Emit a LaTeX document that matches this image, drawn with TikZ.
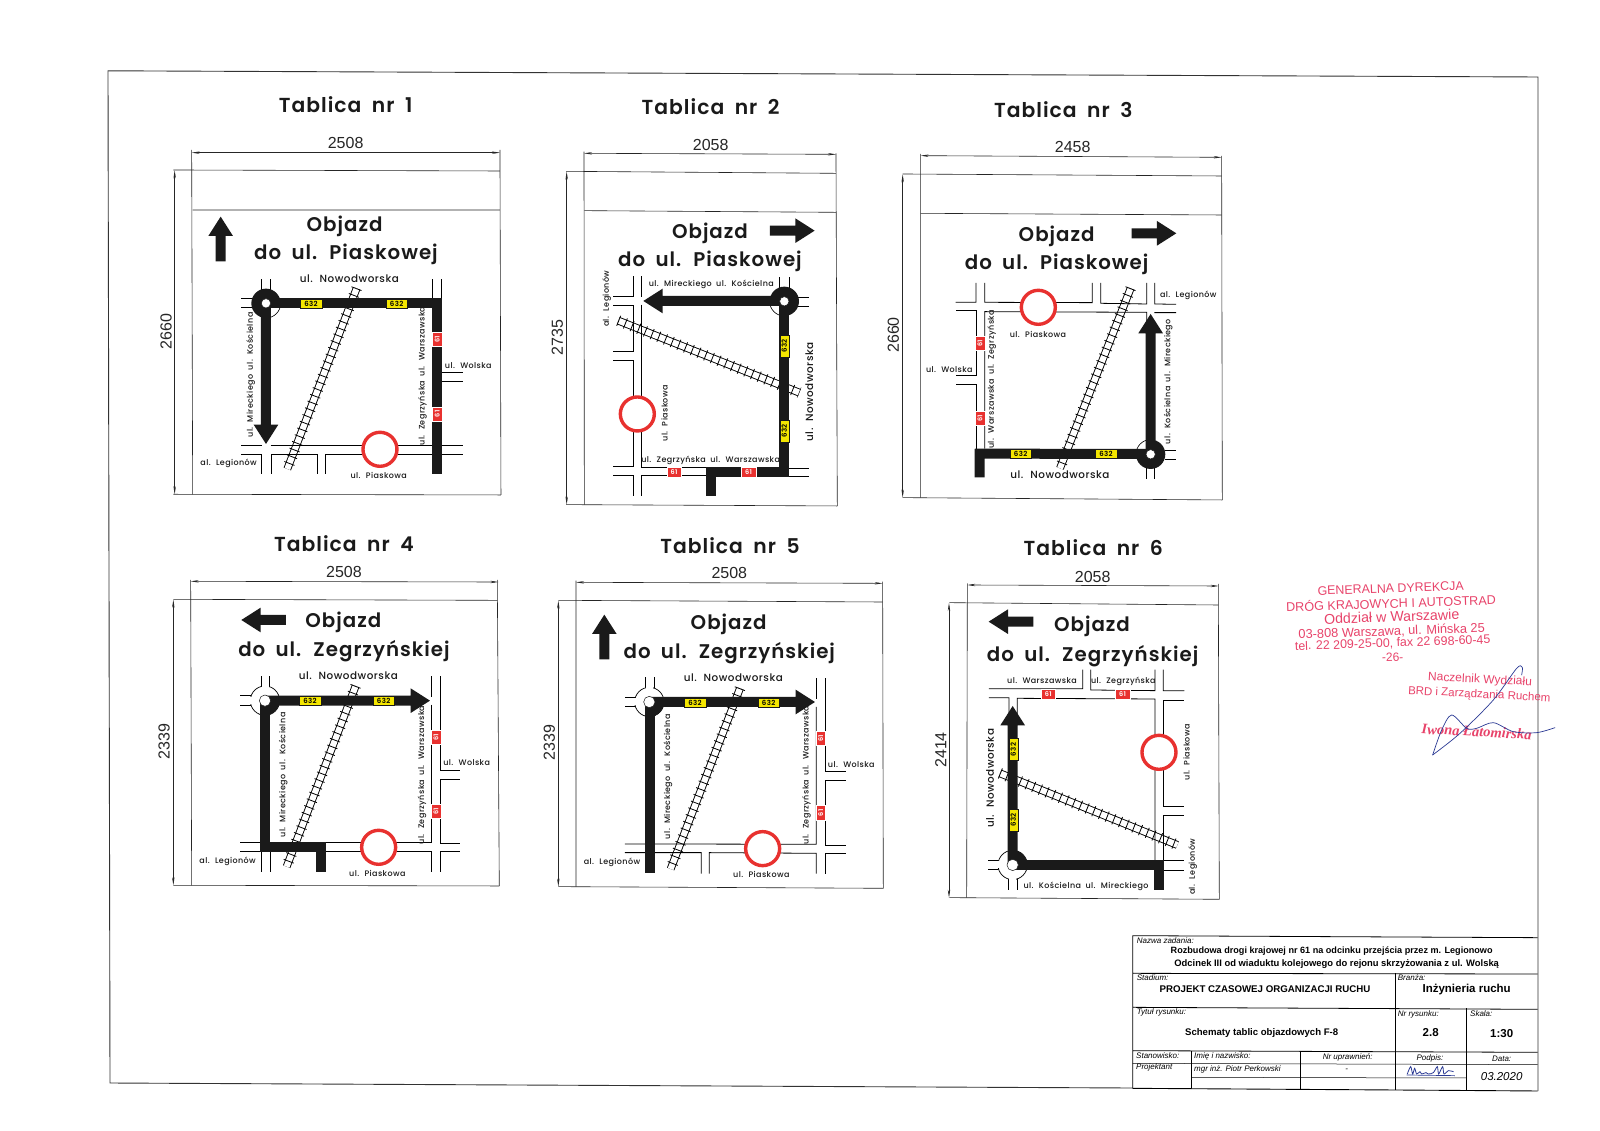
\documentclass[tikz,border=0pt]{standalone}
\usepackage{fontspec}
\usepackage{xcolor}
\usepackage{tikz}
\usetikzlibrary{arrows.meta}
\setmainfont{Liberation Sans}
\newfontfamily\futura[LetterSpace=5,WordSpace=1.8,UprightFont=* Medium]{Poppins}
\newfontfamily\futurab[LetterSpace=5,WordSpace=1.8,UprightFont=* SemiBold]{Poppins}
\newfontfamily\serifstamp{Liberation Serif}
\definecolor{stamp}{HTML}{E8436A}
\definecolor{pen}{HTML}{2B3A94}
\definecolor{signy}{HTML}{F4E600}
\definecolor{signr}{HTML}{E8312F}
\definecolor{ink}{HTML}{1A1A1A}
\newcommand{\fs}[1]{\fontsize{#1}{#1}\selectfont}

\tikzset{
  panel/.style={x=0.3333pt,y=-0.3333pt},
  every node/.style={inner sep=0pt},
  dimline/.style={line width=.6pt,draw=black!85},
  roadline/.style={line width=.8pt,line cap=rect},
  thickroad/.style={line width=10pt,draw=ink},
  ysign/.style={fill=signy,draw=ink,line width=.3pt,minimum width=21.5pt,minimum height=9.3pt,font=\futurab\fs{7}},
  rsign/.style={fill=signr,draw=white,line width=.3pt,text=white,minimum width=14.5pt,minimum height=9.5pt,font=\futurab\fs{6.5}},
  title/.style={font=\futurab\fs{20.3},text=ink},
  board/.style={font=\futurab\fs{19.8},text=ink},
  labs/.style={font=\futura\fs{8},text=ink},
  labl/.style={font=\futura\fs{10.4},text=ink},
  dimtext/.style={font=\fs{16},text=black!85},
  small/.style={font=\itshape\fs{8},anchor=west},
  head/.style={font=\bfseries\fs{9.1}},
  stamptext/.style={text=stamp,font=\fs{12.4}}
}

% arrow: start x, start y, direction, length
\newcommand{\bigarrow}[4]{
  \fill[ink,shift={(#1,#2)},rotate=#3] (0,-15) -- ({#4-58},-15) -- ({#4-58},-37) -- (#4,0) -- ({#4-58},37) -- ({#4-58},15) -- (0,15) -- cycle;
}
\newcommand{\track}[4]{
  \draw[line width=.9pt,double=white,double distance=6pt] (#1,#2) -- (#3,#4);
  \draw[dash pattern=on .8pt off 6.4pt,line width=10.8pt] (#1,#2) -- (#3,#4);
}
% black ring with one white quarter
\newcommand{\ringb}[3]{
  \fill[ink] (#1,#2) circle[radius=44];
  \filldraw[fill=white,draw=none] (#1,#2) -- ++(#3:44) arc[start angle=#3,delta angle=90,radius=44] -- cycle;
  \draw[line width=.6pt] (#1,#2) ++(#3:44) arc[start angle=#3,delta angle=90,radius=44];
}
% thin ring with one black quarter
\newcommand{\ringt}[3]{
  \draw[line width=.7pt,fill=white] (#1,#2) circle[radius=44];
  \fill[ink] (#1,#2) -- ++(#3:44) arc[start angle=#3,delta angle=90,radius=44] -- cycle;
}
\newcommand{\hole}[3]{\filldraw[fill=white,draw=ink,line width=.5pt] (#1,#2) circle[radius=#3];}
\newcommand{\noentry}[2]{\draw[draw=signr,line width=3.4pt,fill=white] (#1,#2) circle[radius=51];}

\begin{document}
\begin{tikzpicture}[x=1pt,y=-1pt]
\useasboundingbox (0,0) rectangle (1600,1131);
\fill[white] (0,0) rectangle (1600,1131);

% frame
\draw[line width=.9pt,draw=black!80] (1132.7,1088) -- (110,1083) -- (108,70.8) -- (1538,77) -- (1538,1091);

% Tablica 1
\begin{scope}[shift={(140,70)},panel]
\node[title] (t1) at (617,105) {Tablica nr 1};
\node[dimtext] (w1) at (617,220) {2508};
\node[dimtext,rotate=90] (h1) at (78,785) {2660};
\draw[dimline,{Stealth[length=8pt,width=2.4pt]}-{Stealth[length=8pt,width=2.4pt]}] (155,248) -- (1080,248);
\draw[dimline,{Stealth[length=8pt,width=2.4pt]}-{Stealth[length=8pt,width=2.4pt]}] (104,301) -- (104,1273);
\draw[dimline] (100,300) -- (1080,303) (158,420) -- (1080,420) (100,1273) -- (1083,1275);
\draw[dimline] (155,240) -- (158,1273) (1080,240) -- (1083,1275);
\node[board] (o1) at (614,468) {Objazd};
\node[board] (d1) at (618,553) {do ul. Piaskowej};
\bigarrow{242}{574}{90}{134}
\track{650}{655}{442}{1197}
\draw[roadline] (365,628) -- (365,665) (390,628) -- (390,665) (305,686) -- (340,686) (305,712) -- (340,712);
\draw[roadline] (877,628) -- (877,686) (905,628) -- (905,686);
\draw[roadline] (305,1127) -- (365,1127) (393,1127) -- (877,1127) (305,1153) -- (365,1153) -- (365,1210);
\draw[roadline] (393,1210) -- (393,1153) -- (532,1153) -- (532,1212) (557,1212) -- (557,1153) -- (877,1153);
\draw[roadline] (907,1127) -- (967,1127) (907,1153) -- (967,1153) (907,908) -- (967,908) (907,934) -- (967,934);
\ringb{378}{700}{0}
\draw[thickroad] (378,700) -- (907,700) (892,685) -- (892,1213);
\bigarrow{378}{700}{-90}{422}
\hole{378}{700}{14}
\noentry{720}{1138}
\node[ysign] (y1a) at (513,702) {632};
\node[ysign] (y1b) at (770,702) {632};
\node[rsign,rotate=90] (r1a) at (892,808) {61};
\node[rsign,rotate=90] (r1b) at (892,1032) {61};
\node[labl] (n1) at (628,627) {ul. Nowodworska};
\node[labs] (w1a) at (985,886) {ul. Wolska};
\node[labs] (l1) at (266,1181) {al. Legionów};
\node[labs] (p1) at (716,1216) {ul. Piaskowa};
\node[labs,rotate=90] (m1) at (332,915) {ul. Mireckiego ul. Kościelna};
\node[labs,rotate=90] (z1) at (848,918) {ul. Zegrzyńska ul. Warszawska};
\end{scope}

% Tablica 2
\begin{scope}[shift={(540,70)},panel]
\node[title] (t2) at (512,110) {Tablica nr 2};
\node[dimtext] (w2) at (512,224) {2058};
\node[dimtext,rotate=90] (h2) at (52,803) {2735};
\draw[dimline,{Stealth[length=8pt,width=2.4pt]}-{Stealth[length=8pt,width=2.4pt]}] (132,250) -- (888,253);
\draw[dimline,{Stealth[length=8pt,width=2.4pt]}-{Stealth[length=8pt,width=2.4pt]}] (80,305) -- (80,1304);
\draw[dimline] (78,304) -- (888,310) (133,422) -- (888,427) (78,1304) -- (892,1308);
\draw[dimline] (132,245) -- (133,1304) (888,250) -- (892,1308);
\node[board] (o2) at (510,489) {Objazd};
\node[board] (d2) at (510,575) {do ul. Piaskowej};
\bigarrow{690}{482}{0}{134}
\track{235}{752}{778}{968}
\draw[roadline] (718,622) -- (718,655) (748,622) -- (748,655) (775,682) -- (806,682) (775,708) -- (806,708);
\draw[roadline] (279,620) -- (279,680) -- (220,680) (305,620) -- (305,680) (305,705) -- (305,1192) -- (498,1192);
\draw[roadline] (220,706) -- (279,706) -- (279,845) -- (220,845) (220,870) -- (279,870) -- (279,1190) -- (220,1190);
\draw[roadline] (220,1217) -- (279,1217) -- (279,1277) (305,1277) -- (305,1217) -- (498,1217);
\draw[roadline] (748,1194) -- (806,1194) (748,1220) -- (806,1220);
\ringb{733}{694}{90}
\draw[thickroad] (733,694) -- (733,1222) (498,1207) -- (748,1207) (513,1192) -- (513,1278);
\bigarrow{733}{693}{180}{423}
\hole{733}{694}{14}
\noentry{292}{1032}
\node[ysign,rotate=90] (y2a) at (733,828) {632};
\node[ysign,rotate=90] (y2b) at (733,1083) {632};
\node[rsign] (r2a) at (402,1206) {61};
\node[rsign] (r2b) at (626,1206) {61};
\node[labs] (m2) at (514,642) {ul. Mireckiego ul. Kościelna};
\node[labs] (z2) at (512,1170) {ul. Zegrzyńska ul. Warszawska};
\node[labs,rotate=90] (l2) at (200,686) {al. Legionów};
\node[labs,rotate=90] (p2) at (374,1030) {ul. Piaskowa};
\node[labl,rotate=90] (n2) at (808,966) {ul. Nowodworska};
\end{scope}

% Tablica 3
\begin{scope}[shift={(880,70)},panel]
\node[title] (t3) at (550,118) {Tablica nr 3};
\node[dimtext] (w3) at (578,232) {2458};
\node[dimtext,rotate=90] (h3) at (40,795) {2660};
\draw[dimline,{Stealth[length=8pt,width=2.4pt]}-{Stealth[length=8pt,width=2.4pt]}] (122,257) -- (1025,262);
\draw[dimline,{Stealth[length=8pt,width=2.4pt]}-{Stealth[length=8pt,width=2.4pt]}] (68,313) -- (68,1283);
\draw[dimline] (68,312) -- (1025,318) (122,430) -- (1025,435) (68,1283) -- (1027,1290);
\draw[dimline] (122,252) -- (122,1283) (1025,258) -- (1027,1290);
\node[board] (o3) at (530,498) {Objazd};
\node[board] (d3) at (530,583) {do ul. Piaskowej};
\bigarrow{755}{490}{0}{134}
\track{752}{655}{540}{1195}
\draw[roadline] (228,697) -- (288,697) -- (288,640) (314,640) -- (314,697) -- (637,698) -- (637,640);
\draw[roadline] (662,640) -- (662,700) -- (800,702) -- (800,640) (824,640) -- (824,702) -- (887,703);
\draw[roadline] (228,722) -- (288,722) -- (288,916) -- (228,916) (228,942) -- (288,942) -- (288,1137);
\draw[roadline] (314,1135) -- (314,725) -- (800,727) -- (800,790) (824,728) -- (887,728);
\draw[roadline] (855,1140) -- (887,1140) (855,1168) -- (887,1168) (798,1195) -- (798,1226) (824,1195) -- (824,1226);
\ringb{812}{1153}{180}
\draw[thickroad] (812,1152) -- (285,1151) (299,1137) -- (299,1222);
\bigarrow{812}{1152}{90}{420}
\hole{812}{1153}{14}
\noentry{475}{712}
\node[ysign] (y3a) at (422,1151) {632};
\node[ysign] (y3b) at (678,1152) {632};
\node[rsign,rotate=90] (r3a) at (300,820) {61};
\node[rsign,rotate=90] (r3b) at (300,1045) {61};
\node[labs] (p3) at (474,794) {ul. Piaskowa};
\node[labs] (l3) at (925,677) {al. Legionów};
\node[labs] (w3a) at (208,898) {ul. Wolska};
\node[labs,rotate=90] (z3) at (335,928) {ul. Warszawska ul. Zegrzyńska};
\node[labs,rotate=90] (m3) at (865,935) {ul. Kościelna ul. Mireckiego};
\node[labl] (n3) at (540,1213) {ul. Nowodworska};
\end{scope}

% Tablica 4
\begin{scope}[shift={(140,520)},panel]
\node[title] (t4) at (612,71) {Tablica nr 4};
\node[dimtext] (w4) at (612,157) {2508};
\node[dimtext,rotate=90] (h4) at (72,665) {2339};
\draw[dimline,{Stealth[length=8pt,width=2.4pt]}-{Stealth[length=8pt,width=2.4pt]}] (152,184) -- (1075,186);
\draw[dimline,{Stealth[length=8pt,width=2.4pt]}-{Stealth[length=8pt,width=2.4pt]}] (100,239) -- (100,1096);
\draw[dimline] (100,238) -- (1072,241) (100,1096) -- (1078,1098);
\draw[dimline] (152,180) -- (155,1096) (1072,180) -- (1078,1098);
\node[board] (o4) at (610,306) {Objazd};
\node[board] (d4) at (612,395) {do ul. Zegrzyńskiej};
\bigarrow{438}{300}{180}{134}
\track{647}{498}{440}{1040}
\draw[roadline] (365,470) -- (365,505) (388,470) -- (388,505) (302,527) -- (335,527) (302,555) -- (335,555);
\draw[roadline] (875,470) -- (875,530) (902,470) -- (902,750) -- (960,750) (960,777) -- (902,777) -- (902,970) -- (960,970);
\draw[roadline] (875,555) -- (875,968) -- (557,968) (302,968) -- (362,968) (302,995) -- (362,995);
\draw[roadline] (557,995) -- (875,995) -- (875,1055) (902,1055) -- (902,995) -- (960,995) (365,995) -- (365,1055) (390,995) -- (390,1055);
\ringt{375}{542}{0}
\draw[white,line width=7pt] (376,490) -- (376,510) (320,541) -- (340,541);
\bigarrow{375}{542}{0}{495}
\draw[thickroad] (376,542) -- (376,996) (362,982) -- (557,982) (542,967) -- (542,1055);
\hole{375}{542}{17}
\noentry{716}{982}
\node[ysign] (y4a) at (510,542) {632};
\node[ysign] (y4b) at (731,542) {632};
\node[rsign,rotate=90] (r4a) at (888,652) {61};
\node[rsign,rotate=90] (r4b) at (888,874) {61};
\node[labl] (n4) at (625,468) {ul. Nowodworska};
\node[labs] (w4a) at (980,728) {ul. Wolska};
\node[labs] (l4) at (263,1023) {al. Legionów};
\node[labs] (p4) at (712,1060) {ul. Piaskowa};
\node[labs,rotate=90] (m4) at (430,765) {ul. Mireckiego ul. Kościelna};
\node[labs,rotate=90] (z4) at (846,765) {ul. Zegrzyńska ul. Warszawska};
\end{scope}

% Tablica 5
\begin{scope}[shift={(540,520)},panel]
\node[title] (t5) at (570,77) {Tablica nr 5};
\node[dimtext] (w5) at (568,160) {2508};
\node[dimtext,rotate=90] (h5) at (28,668) {2339};
\draw[dimline,{Stealth[length=8pt,width=2.4pt]}-{Stealth[length=8pt,width=2.4pt]}] (108,187) -- (1028,190);
\draw[dimline,{Stealth[length=8pt,width=2.4pt]}-{Stealth[length=8pt,width=2.4pt]}] (55,242) -- (55,1100);
\draw[dimline] (55,241) -- (1028,246) (55,1100) -- (1030,1105);
\draw[dimline] (108,182) -- (108,1100) (1028,185) -- (1030,1105);
\node[board] (o5) at (566,312) {Objazd};
\node[board] (d5) at (568,401) {do ul. Zegrzyńskiej};
\bigarrow{193}{418}{90}{134}
\track{600}{505}{392}{1047}
\draw[roadline] (316,472) -- (316,508) (343,472) -- (343,508) (256,532) -- (290,532) (256,560) -- (290,560);
\draw[roadline] (829,476) -- (829,535) (855,476) -- (855,755) -- (916,755) (916,782) -- (855,782) -- (855,975) -- (916,975);
\draw[roadline] (829,562) -- (829,973) -- (344,972) (256,972) -- (314,972) (256,998) -- (314,998);
\draw[roadline] (344,998) -- (484,998) -- (484,1060) (508,1060) -- (508,998) -- (829,1000) -- (829,1060);
\draw[roadline] (855,1060) -- (855,1000) -- (916,1000);
\ringt{328}{546}{0}
\draw[white,line width=7pt] (329,495) -- (329,514) (272,546) -- (292,546);
\bigarrow{328}{546}{0}{497}
\draw[thickroad] (329,546) -- (329,1058);
\hole{328}{546}{17}
\noentry{668}{986}
\node[ysign] (y5a) at (465,548) {632};
\node[ysign] (y5b) at (686,548) {632};
\node[rsign,rotate=90] (r5a) at (842,655) {61};
\node[rsign,rotate=90] (r5b) at (842,878) {61};
\node[labl] (n5) at (580,473) {ul. Nowodworska};
\node[labs] (w5a) at (934,733) {ul. Wolska};
\node[labs] (l5) at (216,1028) {al. Legionów};
\node[labs] (p5) at (664,1064) {ul. Piaskowa};
\node[labs,rotate=90] (m5) at (384,770) {ul. Mireckiego ul. Kościelna};
\node[labs,rotate=90] (z5) at (800,765) {ul. Zegrzyńska ul. Warszawska};
\end{scope}

% Tablica 6
\begin{scope}[shift={(930,520)},panel]
\node[title] (t6) at (490,83) {Tablica nr 6};
\node[dimtext] (w6) at (488,170) {2058};
\node[dimtext,rotate=90] (h6) at (32,690) {2414};
\draw[dimline,{Stealth[length=8pt,width=2.4pt]}-{Stealth[length=8pt,width=2.4pt]}] (112,195) -- (866,198);
\draw[dimline,{Stealth[length=8pt,width=2.4pt]}-{Stealth[length=8pt,width=2.4pt]}] (57,249) -- (57,1133);
\draw[dimline] (58,248) -- (865,255) (58,1133) -- (868,1138);
\draw[dimline] (112,190) -- (110,1133) (865,192) -- (868,1138);
\node[board] (o6) at (486,319) {Objazd};
\node[board] (d6) at (488,408) {do ul. Zegrzyńskiej};
\bigarrow{310}{305}{180}{134}
\track{210}{760}{742}{975}
\draw[roadline] (178,506) -- (458,506) -- (458,450) (482,450) -- (482,510) -- (675,512) -- (675,450);
\draw[roadline] (700,450) -- (700,512) -- (762,512) (178,533) -- (237,533) -- (237,590) (262,590) -- (262,535) -- (675,537) -- (675,1020);
\draw[roadline] (762,540) -- (700,540) -- (700,858) -- (762,858) (762,885) -- (700,885) -- (700,1020);
\draw[roadline] (702,1022) -- (762,1022) (702,1050) -- (762,1050);
\draw[roadline] (175,1022) -- (208,1022) (175,1048) -- (208,1048) (234,1075) -- (234,1108) (262,1075) -- (262,1108);
\ringt{248}{1035}{270}
\draw[white,line width=7pt] (190,1035) -- (210,1035) (248,1070) -- (248,1090);
\bigarrow{248}{1035}{90}{477}
\draw[thickroad] (248,1035) -- (702,1035) (686,1020) -- (686,1110);
\hole{248}{1035}{17}
\noentry{687}{697}
\node[ysign,rotate=90] (y6a) at (250,688) {632};
\node[ysign,rotate=90] (y6b) at (250,900) {632};
\node[rsign] (r6a) at (355,522) {61};
\node[rsign] (r6b) at (578,522) {61};
\node[labs] (z6a) at (336,483) {ul. Warszawska};
\node[labs] (z6b) at (580,485) {ul. Zegrzyńska};
\node[labs] (m6) at (468,1100) {ul. Kościelna ul. Mireckiego};
\node[labl,rotate=90] (n6) at (180,775) {ul. Nowodworska};
\node[labs,rotate=90] (p6) at (770,697) {ul. Piaskowa};
\node[labs,rotate=90] (l6) at (788,1040) {al. Legionów};
\end{scope}

% tabliczka
\begin{scope}[shift={(1120,920)},panel]
\draw[line width=.8pt] (38,505) -- (38,47) -- (1253,53) (38,160) -- (1253,162) (38,262) -- (1253,268) (38,392) -- (1253,397);
\draw[line width=.5pt] (38,430) -- (1253,434) (215,472) -- (1040,474);
\draw[line width=.9pt] (825,160) -- (825,510) (1040,265) -- (1040,512) (215,392) -- (215,505) (542,394) -- (542,507);
\draw[line width=.9pt] (38,505) -- (825,510) -- (1253,513);
\node[small] (a1) at (50,62) {Nazwa zadania:};
\node[head] (a2) at (635,92) {Rozbudowa drogi krajowej nr 61 na odcinku przejścia przez m. Legionowo};
\node[head,font=\bfseries\fs{9.4}] (a3) at (650,132) {Odcinek III od wiaduktu kolejowego do rejonu skrzyżowania z ul. Wolską};
\node[small] (b1) at (50,173) {Stadium:};
\node[font=\bfseries\fs{9.7}] (b2) at (435,207) {PROJEKT CZASOWEJ ORGANIZACJI RUCHU};
\node[small] (b3) at (833,173) {Branża:};
\node[font=\bfseries\fs{11.5}] (b4) at (1040,208) {Inżynieria ruchu};
\node[small] (c1) at (50,277) {Tytuł rysunku:};
\node[font=\bfseries\fs{9.6}] (c2) at (425,340) {Schematy tablic objazdowych F-8};
\node[small] (c3) at (833,282) {Nr rysunku:};
\node[small] (c4) at (1050,282) {Skala:};
\node[font=\bfseries\fs{11.5}] (c5) at (932,338) {2.8};
\node[font=\bfseries\fs{11.5}] (c6) at (1145,340) {1:30};
\node[small] (e1) at (48,407) {Stanowisko:};
\node[small] (e2) at (222,408) {Imię i nazwisko:};
\node[small,anchor=center] (e3) at (683,412) {Nr uprawnień:};
\node[small,anchor=center] (e4) at (930,415) {Podpis:};
\node[small,anchor=center] (e5) at (1145,417) {Data:};
\node[small] (f1) at (48,443) {Projektant};
\node[small] (f2) at (222,448) {mgr inż. Piotr Perkowski};
\node[small,anchor=center] (f3) at (680,452) {-};
\node[font=\itshape\fs{11.5}] (f4) at (1145,470) {03.2020};
\draw[pen,line width=.7pt] (860,465) -- (1005,467);
\draw[pen,line width=.8pt,line cap=round] plot[smooth] coordinates {(862,462) (872,440) (878,462) (884,445) (890,462) (900,455) (905,462) (918,458) (925,462) (940,458) (952,440) (956,462) (968,440) (972,462) (985,452) (1000,455)};
\end{scope}

% pieczatka
\begin{scope}[shift={(1260,560)},panel]
\node[stamptext,rotate=2] (s1) at (392,85) {GENERALNA DYREKCJA};
\node[stamptext,rotate=2,font=\fs{12.6}] (s2) at (393,128) {DRÓG KRAJOWYCH I AUTOSTRAD};
\node[stamptext,rotate=2,font=\fs{14.2}] (s3) at (395,170) {Oddział w Warszawie};
\node[stamptext,rotate=2,font=\fs{12.8}] (s4) at (395,215) {03-808 Warszawa, ul. Mińska 25};
\node[stamptext,rotate=2,font=\fs{12.4}] (s5) at (398,250) {tel. 22 209-25-00, fax 22 698-60-45};
\node[stamptext,rotate=2,font=\fs{12}] (s6) at (398,292) {-26-};
\node[stamptext,rotate=-3,font=\fs{12}] (s7) at (660,360) {Naczelnik Wydziału};
\node[stamptext,rotate=-3,font=\fs{11.5}] (s8) at (658,405) {BRD i Zarządzania Ruchem};
\node[stamptext,rotate=-3,font=\serifstamp\bfseries\itshape\fs{14.5}] (s9) at (650,515) {Iwona Łatomirska};
\draw[pen,line width=.7pt,line cap=round] plot[smooth] coordinates {(885,503) (830,518) (760,515) (700,488) (650,505) (620,505) (575,465) (545,510) (518,585)};
\draw[pen,line width=.7pt,line cap=round] plot[smooth] coordinates {(518,585) (600,520) (700,420) (770,325) (787,322) (785,345)};
\end{scope}
\end{tikzpicture}
\end{document}
